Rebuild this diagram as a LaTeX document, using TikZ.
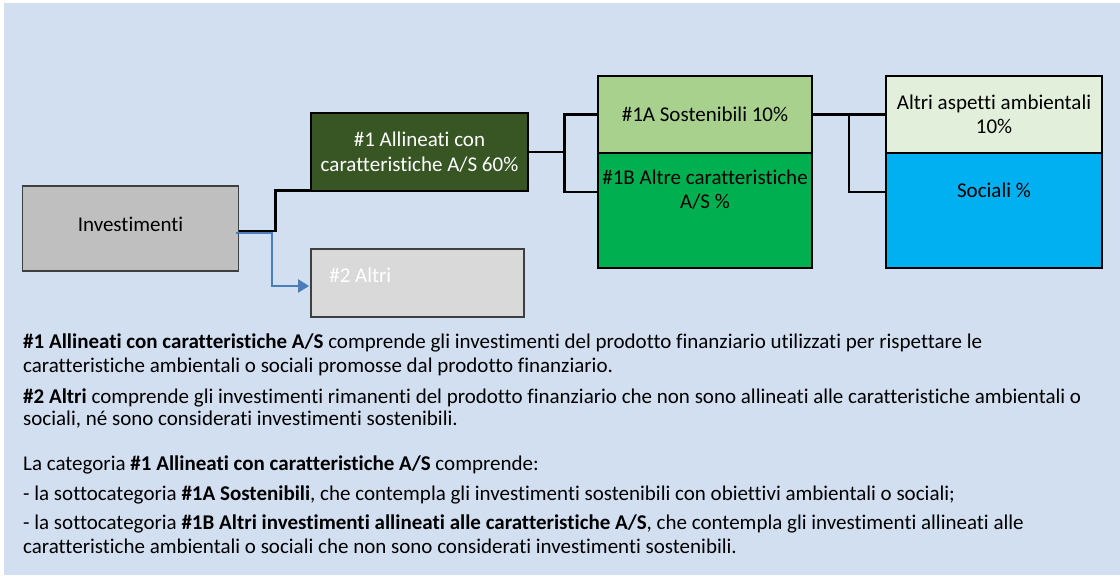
\documentclass[tikz,border=0pt]{standalone}
\usepackage{fontspec}
\setmainfont[Ligatures={NoCommon}]{Carlito}
\usetikzlibrary{calc, arrows.meta}

\definecolor{panelblue}{HTML}{D2DFF1}
\definecolor{invgrey}{HTML}{BFBFBF}
\definecolor{altrigrey}{HTML}{D9D9D9}
\definecolor{edgegrey}{HTML}{3F3F3F}
\definecolor{darkgreen}{HTML}{375623}
\definecolor{lightgreen}{HTML}{A9D18E}
\definecolor{midgreen}{HTML}{00B050}
\definecolor{palegreen}{HTML}{E2EFDA}
\definecolor{skyblue}{HTML}{00B0F0}
\definecolor{linkblue}{HTML}{4A7EBB}

\begin{document}
\begin{tikzpicture}[x=1pt, y=-1pt,
        font=\fontsize{21}{24.5}\selectfont,
        catbox/.style={draw=black, line width=2.6pt, minimum width=214pt, inner sep=0pt, align=center},
        softbox/.style={draw=edgegrey, line width=1.8pt, inner sep=0pt},
        link/.style={draw=black, line width=2.6pt},
        bluelink/.style={draw=linkblue, line width=2pt, -{Triangle[length=11pt,width=13pt]}, shorten >=1pt},
        note/.style={anchor=base west, inner sep=0pt}]

        % Background panel
        \useasboundingbox (0,0) rectangle (1120,585);
        \fill[panelblue] (4,3) rectangle (1120,575);

        % Investments and the two main categories
        \node[softbox, fill=invgrey, minimum width=216pt, minimum height=85pt, text depth=9pt] (inv) at (130.5,228.5) {Investimenti};
        \node[catbox, fill=darkgreen, text=white, minimum width=217pt, minimum height=78pt] (all) at (419.5,152) {\#1 Allineati con\\caratteristiche A/S 60\%};
        \node[softbox, fill=altrigrey, minimum width=213pt, minimum height=68pt] (altri) at (417.5,283) {};
        \node[anchor=west, text=white, inner sep=0pt] (altrilbl) at ($(altri.west)+(19,-8)$) {\#2 Altri};

        % Sub-categories of #1
        \node[catbox, fill=lightgreen, minimum height=77pt] (sost) at (705,114.5) {\#1A Sostenibili 10\%};
        \node[catbox, fill=midgreen, minimum height=115pt] (altre) at (705,210.5) {};
        \node[align=center, inner sep=0pt, anchor=north] (altrelbl) at ($(altre.north)+(0,18)$) {\#1B Altre caratteristiche\\A/S \%};

        % Sub-categories of #1A
        \node[catbox, fill=palegreen, minimum width=216pt, minimum height=77pt] (amb) at (994,114.5) {Altri aspetti ambientali\\10\%};
        \node[catbox, fill=skyblue, minimum width=216pt, minimum height=115pt] (soc) at (994,210.5) {};
        \node[inner sep=0pt, anchor=north] (soclbl) at ($(soc.north)+(0,31)$) {Sociali \%};

        % Links
        \draw[link] ([yshift=-2.5pt]inv.east) -- ++(36,0) |- ([yshift=2pt]all.south west);
        \draw[bluelink] ([xshift=-3pt,yshift=-4.5pt]inv.east) -- ++(36,0) |- ([yshift=-3pt]altri.west);
        \draw[link] (all.east) -- ++(35,0) coordinate (forka);
        \draw[link] (sost.west) -| (forka) |- ([yshift=18.5pt]altre.west);
        \draw[link] (sost.east) -- (amb.west);
        \draw[link] ($(sost.east)!0.5!(amb.west)$) |- ([yshift=18.5pt]soc.west);

        % Notes below the diagram
        \node[note] (notea) at (23,349) {\textbf{\#1 Allineati con caratteristiche A/S} comprende gli investimenti del prodotto finanziario utilizzati per rispettare le};
        \node[note] (noteb) at (23,373) {caratteristiche ambientali o sociali promosse dal prodotto finanziario.};
        \node[note] (notec) at (23,403) {\textbf{\#2 Altri} comprende gli investimenti rimanenti del prodotto finanziario che non sono allineati alle caratteristiche ambientali o};
        \node[note] (noted) at (23,426) {sociali, né sono considerati investimenti sostenibili.};
        \node[note] (notee) at (23,470) {La categoria \textbf{\#1 Allineati con caratteristiche A/S} comprende:};
        \node[note] (notef) at (23,500) {- la sottocategoria \textbf{\#1A Sostenibili}, che contempla gli investimenti sostenibili con obiettivi ambientali o sociali;};
        \node[note] (noteg) at (23,529) {- la sottocategoria \textbf{\#1B Altri investimenti allineati alle caratteristiche A/S}, che contempla gli investimenti allineati alle};
        \node[note] (noteh) at (23,553) {caratteristiche ambientali o sociali che non sono considerati investimenti sostenibili.};
\end{tikzpicture}
\end{document}
